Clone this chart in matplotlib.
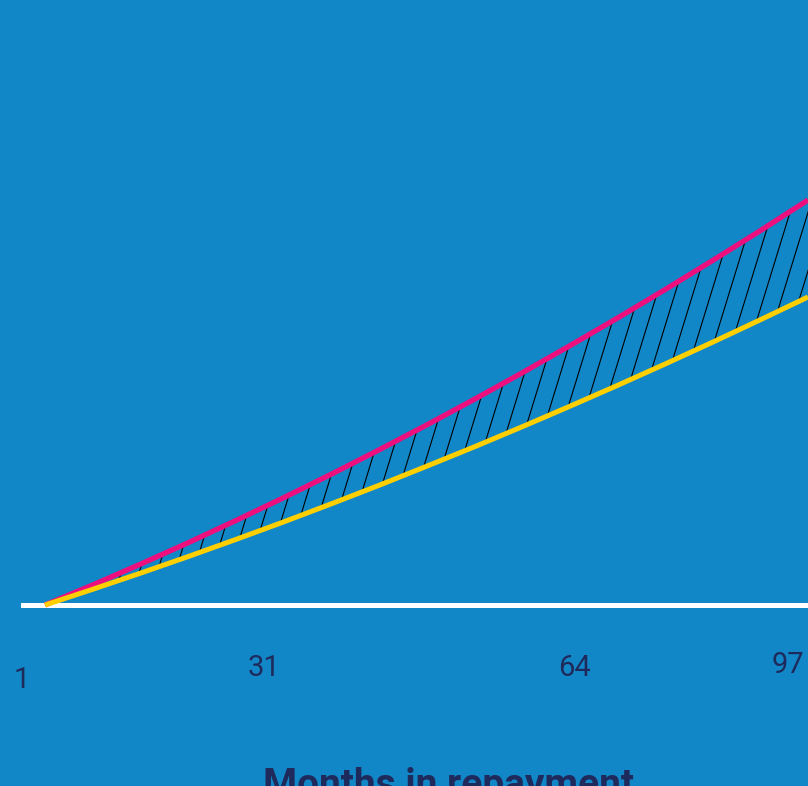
import numpy as np
import matplotlib
matplotlib.use('Agg')
import matplotlib.pyplot as plt
from matplotlib.collections import LineCollection

# ---- data ----
months = [1, 7, 13, 19, 25, 31, 37, 43, 49, 55, 61, 67, 73, 79, 85, 91, 97]
higher = [0, 20, 40.8, 62.2, 84.4, 107.2, 130.7, 155.0, 179.9, 205.6,
          232.0, 259.1, 286.8, 315.3, 344.5, 374.3, 405]          # pink
lower = [0, 15.7, 31.8, 48.4, 65.5, 83.0, 101.1, 119.6, 138.7, 158.1,
         178.1, 198.6, 219.5, 240.9, 262.8, 285.2, 308]           # yellow
tick_labels = ['1', '31', '64', '97']

bg = '#1287C7'
pink = '#EC0F7D'
yellow = '#FFCF00'
navy = '#1F2A5C'

# ---- figure ----
fig = plt.figure(figsize=(8.08, 7.86), dpi=100, facecolor=bg)
ax = fig.add_axes([0, 0, 1, 1], facecolor=bg)
ax.set_xlim(-4.66, 97)
ax.set_ylim(-181, 605)
ax.axis('off')

# baseline
ax.axhline(0, xmin=0.0285, xmax=1, color='white', lw=3.6, zorder=2)

# hatched gap between the two curves, steep strokes clipped to the band
band = ax.fill_between(months, lower, higher, facecolor='none',
                       edgecolor='none', zorder=1)
px_per_month = 763 / 96
step = 18 / px_per_month            # ~18 px between strokes
lean = 1 / (3.25 * px_per_month)    # months per unit of rise
segs = []
for x0 in np.arange(months[0] - 60, months[-1] + 5, step):
    segs.append([(x0, -10), (x0 + 430 * lean, 420)])
hatch = LineCollection(segs, colors='black', linewidths=0.8, zorder=1)
ax.add_collection(hatch)
hatch.set_clip_path(band.get_paths()[0], ax.transData)

ax.plot(months, higher, color=pink, lw=3.8, zorder=3, solid_capstyle='butt')
ax.plot(months, lower, color=yellow, lw=3.6, zorder=4, solid_capstyle='butt')

# tick labels
label_pos = [(22, 680), (264, 668), (575, 668), (788, 665)]
for lab, (px, py) in zip(tick_labels, label_pos):
    fig.text(px / 808, 1 - py / 786, lab, ha='center', va='center',
             fontsize=21, color=navy, family=['Roboto', 'DejaVu Sans'],
             fontweight='normal')

fig.text(448 / 808, 1 - 796 / 786, 'Months in repayment', ha='center',
         va='baseline', fontsize=28, color=navy,
         family=['Roboto', 'DejaVu Sans'], fontweight='bold')

fig.savefig('out.png', dpi=100, facecolor=bg)
